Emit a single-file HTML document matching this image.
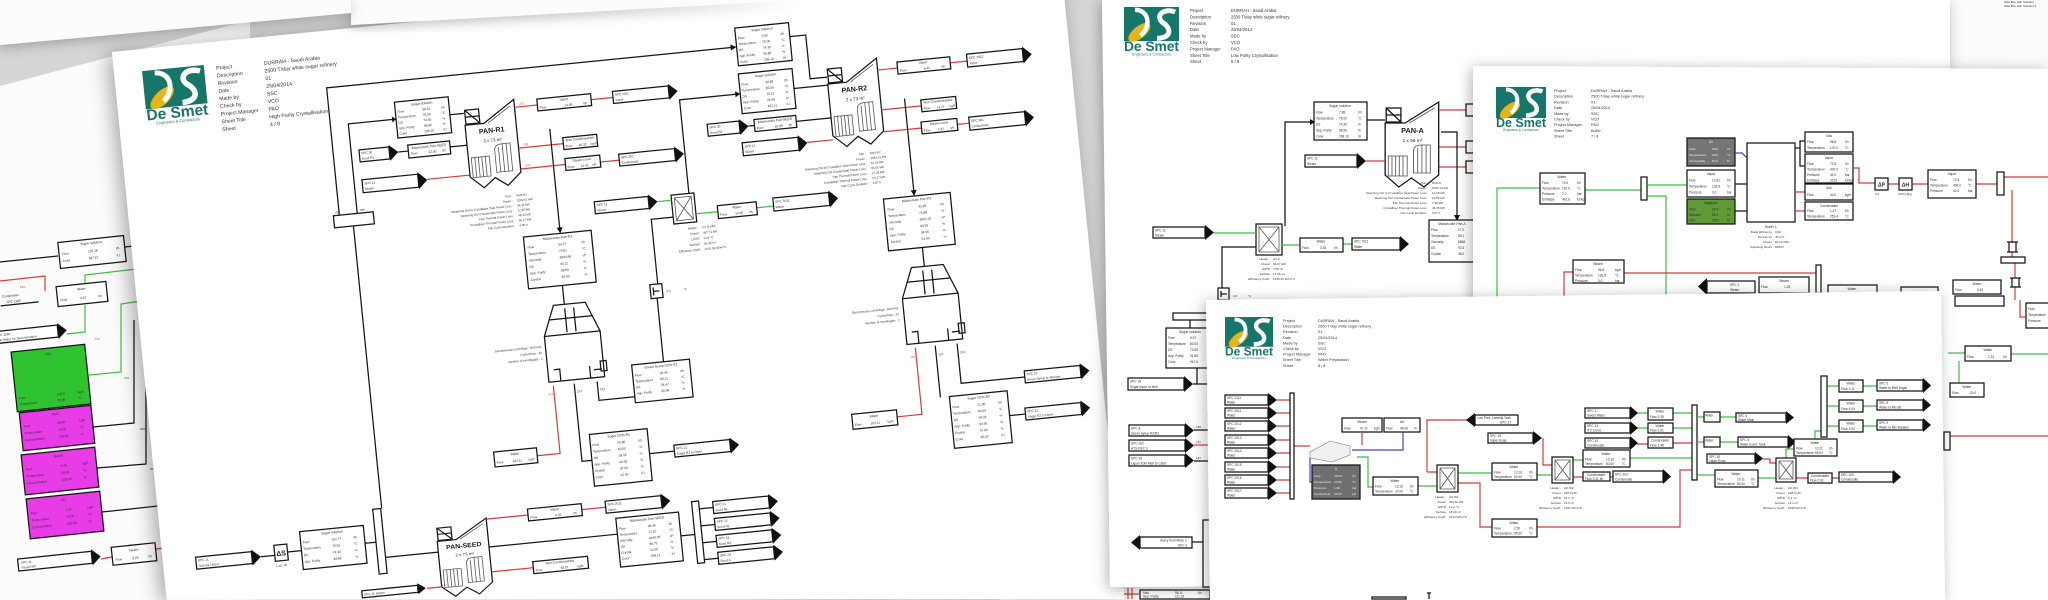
<!DOCTYPE html>
<html><head><meta charset="utf-8">
<style>
html,body{margin:0;padding:0;background:#fff;overflow:hidden;width:2048px;height:600px}
#wrap{position:relative;width:2048px;height:600px;overflow:hidden;background:#d6d6d6}
svg{display:block;overflow:hidden}
.bx{fill:#fff;stroke:#151515;stroke-width:1.25}
.k{fill:none;stroke:#151515;stroke-width:1.25}
.kt{fill:none;stroke:#555;stroke-width:0.8}
.r{fill:none;stroke:#d43c3c;stroke-width:1.2}
.g{fill:none;stroke:#3cc03c;stroke-width:1.2}
.bl{fill:none;stroke:#3a48c0;stroke-width:1.2}
.tr{fill:#111}
text{font-family:"Liberation Sans",sans-serif}
.t{font-size:3.2px;fill:#2e2e2e}
.tt{font-size:3.4px;fill:#2e2e2e;text-anchor:middle}
.tw{font-size:3.1px;fill:#eee}
.tb5{font-size:5.2px;fill:#333}
.tb4{font-size:4.2px;fill:#333}
.tb3{font-size:3.8px;fill:#333}
.te{font-size:3px;fill:#333;text-anchor:end}
.tm{font-size:3px;fill:#333}
.vl{font-size:7px;font-weight:bold;fill:#1a1a1a;text-anchor:middle}
.vs{font-size:4.5px;fill:#222;text-anchor:middle}
.ds{font-size:25px;font-weight:bold;fill:#17766a}
.ds2{font-size:6.5px;fill:#17766a}
.nr{font-size:3px;fill:#d43c3c}
.nk{font-size:3px;fill:#333}
.ng{font-size:3px;fill:#2a9a2a}
</style></head><body>
<div id="wrap">
<svg width="2048" height="600" viewBox="0 0 2048 600" xmlns="http://www.w3.org/2000/svg">
<defs>
<filter id="sh" x="-30%" y="-30%" width="160%" height="160%"><feDropShadow dx="-2" dy="2" stdDeviation="7" flood-color="#000" flood-opacity="0.3"/></filter>
<filter id="shA" x="-10%" y="-10%" width="120%" height="120%"><feDropShadow dx="-5" dy="3" stdDeviation="10" flood-color="#000" flood-opacity="0.35"/></filter>
</defs>
<rect width="2048" height="600" fill="#d6d6d6"/>

<!-- ============ SHEET L (far left) ============ -->
<polygon points="0,86 250,20 250,600 0,600" fill="#fbfbfb"/>
<path class="k" d="M0,262 L58,256"/>
<path class="k" d="M125,247 L150,244"/>
<path class="r" d="M0,281 L45,276 V291"/>
<path class="g" d="M67,334 L85,332 V305"/>
<path class="g" d="M85,284 V275 L145,268"/>
<path class="g" d="M89,375 L121,372 V304 L148,300"/>
<path class="k" d="M93,427 L134,423 V320"/>
<path class="k" d="M97,468 L146,464 V340"/>
<path class="k" d="M102,512 L158,506 V370"/>
<path class="r" d="M101,559 L112,557"/>
<path class="r" d="M156,549 L172,547"/>
<text class="nk" x="140" y="430">208</text><text class="nk" x="150" y="470">209</text><text class="nk" x="160" y="512">210</text>
<text class="ng" x="95" y="340">197</text><text class="ng" x="124" y="379">198</text><text class="nr" x="20" y="288">181</text>
<g transform="rotate(-6 92 252)"><rect class="bx" x="59" y="239" width="66" height="26"/><text class="tt" x="92" y="244">Sugar solution</text>
<text class="t" y="252"><tspan x="62">Flow</tspan><tspan x="88">155.28</tspan><tspan x="116">t/h</tspan></text>
<text class="t" y="259"><tspan x="62">Color</tspan><tspan x="88">387.57</tspan><tspan x="116">IU</tspan></text></g>
<g transform="rotate(-6 82 294)"><rect class="bx" x="57" y="284" width="50" height="20"/><text class="tt" x="82" y="290">Water</text>
<text class="t" y="299"><tspan x="60">Flow</tspan><tspan x="80">0.07</tspan><tspan x="98">t/h</tspan></text></g>
<g transform="rotate(-6 18 298)"><text class="t" x="2" y="296">Condensate</text><text class="t" x="6" y="302">SPC 1180</text><path class="k" d="M0,304 H38"/></g>
<g transform="rotate(-6 30 334)"><rect class="bx" x="-8" y="328" width="66" height="12"/><polygon class="tr" points="58,326 67,334 58,342"/><text class="t" x="-4" y="333">SPC 1140</text><text class="t" x="-4" y="338">Salt Water for Decolorization</text></g>
<g transform="rotate(-6 51 378)"><rect x="14" y="348" width="74" height="60" fill="#2fc42f" stroke="#151515" stroke-width="1.25"/><text class="tt" x="51" y="355">DS1</text>
<text class="t" y="396"><tspan x="17">Flow</tspan><tspan x="55">126.0</tspan><tspan x="76">kg/h</tspan></text>
<text class="t" y="402"><tspan x="17">Temperature</tspan><tspan x="55">20.00</tspan><tspan x="76">°C</tspan></text></g>
<g transform="rotate(-6 57 428)"><rect x="21" y="409" width="72" height="38" fill="#e83ce8" stroke="#151515" stroke-width="1.25"/><text class="tt" x="57" y="415">NaCl</text>
<text class="t" y="424"><tspan x="24">Flow</tspan><tspan x="58">59.80</tspan><tspan x="80">kg/h</tspan></text>
<text class="t" y="431"><tspan x="24">Temperature</tspan><tspan x="58">20.00</tspan><tspan x="80">°C</tspan></text>
<text class="t" y="438"><tspan x="24">Concentration</tspan><tspan x="58">100.00</tspan><tspan x="80">%</tspan></text></g>
<g transform="rotate(-6 60 471)"><rect x="23" y="451" width="74" height="40" fill="#e83ce8" stroke="#151515" stroke-width="1.25"/><text class="tt" x="60" y="457">NaOH</text>
<text class="t" y="467"><tspan x="26">Flow</tspan><tspan x="61">4.48</tspan><tspan x="83">kg/h</tspan></text>
<text class="t" y="474"><tspan x="26">Temperature</tspan><tspan x="61">20.00</tspan><tspan x="83">°C</tspan></text>
<text class="t" y="481"><tspan x="26">Concentration</tspan><tspan x="61">100.00</tspan><tspan x="83">%</tspan></text></g>
<g transform="rotate(-6 65 515)"><rect x="28" y="495" width="74" height="40" fill="#e83ce8" stroke="#151515" stroke-width="1.25"/><text class="tt" x="65" y="501">HCl</text>
<text class="t" y="511"><tspan x="31">Flow</tspan><tspan x="66">1.22</tspan><tspan x="88">kg/h</tspan></text>
<text class="t" y="518"><tspan x="31">Temperature</tspan><tspan x="66">20.00</tspan><tspan x="88">°C</tspan></text>
<text class="t" y="525"><tspan x="31">Concentration</tspan><tspan x="66">100.00</tspan><tspan x="88">%</tspan></text></g>
<g transform="rotate(-6 134 554)"><rect class="bx" x="112" y="545" width="44" height="18"/><text class="tt" x="134" y="551">Steam</text>
<text class="t" y="559"><tspan x="115">Flow</tspan><tspan x="132">3.86</tspan><tspan x="148">t/h</tspan></text></g>
<g transform="rotate(-6 57 561)"><rect class="bx" x="18" y="555" width="74" height="12"/><polygon class="tr" points="92,553 101,561 92,569"/><text class="t" x="21" y="560">SPC 11</text><text class="t" x="21" y="565">Steam BP</text></g>

<!-- ============ under-sheet bottom centre ============ -->
<polygon points="1000,545 1215,545 1215,600 1000,600" fill="#fbfbfb"/>
<rect class="bx" x="1140" y="590" width="70" height="9"/>
<text class="t" y="594"><tspan x="1143">Max</tspan><tspan x="1175">98.11</tspan><tspan x="1198">t/h</tspan></text>
<text class="t" y="597.5"><tspan x="1143">Sep. Purity</tspan><tspan x="1175">111.32</tspan></text>
<path class="r" d="M1128,588 V599 M1124,594 H1140 M1132,588 V599"/>

<!-- ============ SHEET A (main, rotated) ============ -->
<g transform="translate(112,52) rotate(-5.7)">
<polygon points="0,0 953,0 953,645 0,550.5" fill="#fff" filter="url(#shA)"/>
<g transform="translate(28,22) scale(0.62)">
<rect width="100" height="62" fill="#17766a"/>
<ellipse cx="28" cy="46" rx="24" ry="11" transform="rotate(-38 28 46)" fill="#e9b41a"/>
<path d="M20,5 C46,6 50,34 30,52" fill="none" stroke="#fff" stroke-width="8"/>
<path d="M93,9 C72,1 56,16 70,28 C86,38 88,56 60,57" fill="none" stroke="#fff" stroke-width="9"/>
<text class="ds" x="50" y="80" text-anchor="middle">De Smet</text>
<text class="ds2" x="50" y="88" text-anchor="middle">Engineers &amp; Contractors</text>
</g>
<text class="tb5"><tspan x="102" y="28">Project</tspan><tspan x="102" y="35.7">Description</tspan><tspan x="102" y="43.4">Revision</tspan><tspan x="102" y="51.1">Date</tspan><tspan x="102" y="58.8">Made by</tspan><tspan x="102" y="66.5">Check by</tspan><tspan x="102" y="74.2">Project Manager</tspan><tspan x="102" y="81.9">Sheet Title</tspan><tspan x="102" y="89.6">Sheet</tspan></text>
<text class="tb5"><tspan x="150" y="28">DURRAH - Saudi Arabia</tspan><tspan x="150" y="35.7">2500 T/day white sugar refinery</tspan><tspan x="150" y="43.4">01</tspan><tspan x="150" y="51.1">25/04/2014</tspan><tspan x="150" y="58.8">SSC</tspan><tspan x="150" y="66.5">VCO</tspan><tspan x="150" y="74.2">PAO</tspan><tspan x="150" y="81.9">High Purity Crystallisation</tspan><tspan x="150" y="89.6">4 / 8</tspan></text>

<path class="k" d="M210,185 V57 H619"/><polygon class="tr" points="616,54 622,57 616,60"/>
<path class="k" d="M228,185 V95 H273"/><polygon class="tr" points="272,92 276,95 272,98"/>
<rect class="bx" x="204" y="185" width="40" height="12"/>
<text class="nk" x="206" y="183">207</text><text class="nk" x="231" y="183">206</text>
<path class="k" d="M223,197 V481"/>

<!-- PAN-R1 -->
<rect class="bx" x="276" y="78" width="54" height="36"/><text class="tt" x="303" y="83">Sugar solution</text>
<text class="t" y="89"><tspan x="278">Flow</tspan><tspan x="303">38.29</tspan><tspan x="322">t/h</tspan></text>
<text class="t" y="94.5"><tspan x="278">Temperature</tspan><tspan x="303">76.00</tspan><tspan x="322">°C</tspan></text>
<text class="t" y="100"><tspan x="278">DS</tspan><tspan x="303">74.30</tspan><tspan x="322">%</tspan></text>
<text class="t" y="105.5"><tspan x="278">App. Purity</tspan><tspan x="303">98.85</tspan><tspan x="322">%</tspan></text>
<text class="t" y="111"><tspan x="278">Color</tspan><tspan x="303">298.10</tspan><tspan x="322">IU</tspan></text>
<rect class="bx" x="285" y="122" width="42" height="13"/><text class="tt" x="306" y="126.5">Massecuite Pan-SEED</text>
<text class="t" y="132"><tspan x="287">Flow</tspan><tspan x="305">22.50</tspan><tspan x="319">t/h</tspan></text>
<rect class="bx" x="236" y="122" width="30" height="12"/><polygon class="tr" points="266,120 275,128 266,136"/><text class="t" x="238" y="126.5">SPC 30</text><text class="t" x="238" y="132">Seed R1</text>
<rect class="bx" x="236" y="152" width="56" height="13"/><polygon class="tr" points="292,150 301,158.5 292,167"/><text class="t" x="238" y="157">SPC 11</text><text class="t" x="238" y="162.5">Steam</text>
<path class="k" d="M330,96 H344 M275,128 H285 M327,128 H344"/><path class="r" d="M301,158 H344"/>
<g transform="translate(341,86)">
<path class="k" d="M3,22 V74 L16,86 L28,77 L40,86 L54,74 V1 L22,22 Z"/>
<rect class="k" x="4" y="7" width="14" height="14"/><path class="k" d="M4,7 L18,21 M4,14 H18"/><path class="kt" d="M26,22 L50,7"/>
<rect class="kt" x="6" y="55" width="18" height="20"/><path class="kt" d="M9.5,55V75M13,55V75M16.5,55V75M20,55V75"/>
<path class="kt" d="M30,72 V50 Q30,44 38,44 H46 V72 Z M34,47V72M38,44V72M42,44V72"/>
<text class="vl" x="29" y="32">PAN-R1</text><text class="vs" x="29" y="41">3 x 73 m²</text>
</g>
<path class="r" d="M395,95 H418 M472,95 H494 M395,136 H440 M395,157 H440 M475,158 H494"/>
<text class="nr" x="400" y="93">202</text><text class="nr" x="400" y="134">203</text><text class="nr" x="400" y="155">204</text>
<rect class="bx" x="418" y="89" width="54" height="12"/><text class="tt" x="445" y="93">Vapor</text><text class="t" y="99"><tspan x="420">Flow</tspan><tspan x="445">13.85</tspan><tspan x="464">t/h</tspan></text>
<rect class="bx" x="494" y="89" width="56" height="12"/><polygon class="tr" points="550,87 559,95 550,103"/><text class="t" x="496" y="93.5">SPC 2011</text><text class="t" x="496" y="99">Vapor</text>
<rect class="bx" x="440" y="130" width="34" height="12"/><text class="tt" x="457" y="134">Non Condensables</text><text class="t" y="140"><tspan x="442">Flow</tspan><tspan x="455">46.32</tspan><tspan x="467">kg/h</tspan></text>
<rect class="bx" x="440" y="151" width="35" height="12"/><text class="tt" x="457" y="155">Steam cond.</text><text class="t" y="161"><tspan x="442">Flow</tspan><tspan x="455">15.41</tspan><tspan x="467">t/h</tspan></text>
<rect class="bx" x="494" y="152" width="56" height="12"/><polygon class="tr" points="550,150 559,158 550,166"/><text class="t" x="496" y="156.5">SPC 301</text><text class="t" x="496" y="162">Condensate</text>
<path class="k" d="M428,120 V222"/><polygon class="tr" points="425,219 428,225 431,219"/>
<text class="te" x="384" y="184">Pan :</text><text class="tm" x="388" y="184">PAN-R1</text>
<text class="te" x="384" y="189">Power :</text><text class="tm" x="388" y="189">2299.61 kW</text>
<text class="te" x="384" y="194">Steaming Out to Crystallizer heat Power Loss :</text><text class="tm" x="388" y="194">96.11 kW</text>
<text class="te" x="384" y="199">Steaming Out Condensate Power Loss :</text><text class="tm" x="388" y="199">11.35 kW</text>
<text class="te" x="384" y="204">Pan Thermal Power Loss :</text><text class="tm" x="388" y="204">48.12 kW</text>
<text class="te" x="384" y="209">Crystalliser Thermal Power Loss :</text><text class="tm" x="388" y="209">56.17 kW</text>
<text class="te" x="384" y="214">Pan Cycle Duration :</text><text class="tm" x="388" y="214">3.00 h</text>
<rect class="bx" x="391" y="225" width="68" height="52"/><text class="tt" x="425" y="230">Massecuite Pan-R1</text>
<text class="t" y="237"><tspan x="394">Flow</tspan><tspan x="425">54.27</tspan><tspan x="448">t/h</tspan></text>
<text class="t" y="243.5"><tspan x="394">Temperature</tspan><tspan x="425">73.81</tspan><tspan x="448">°C</tspan></text>
<text class="t" y="250"><tspan x="394">Viscosity</tspan><tspan x="425">6090.88</tspan><tspan x="448">cP</tspan></text>
<text class="t" y="256.5"><tspan x="394">DS</tspan><tspan x="425">90.11</tspan><tspan x="448">%</tspan></text>
<text class="t" y="263"><tspan x="394">App. Purity</tspan><tspan x="425">98.85</tspan><tspan x="448">%</tspan></text>
<text class="t" y="269.5"><tspan x="394">Crystal</tspan><tspan x="425">55.50</tspan><tspan x="448">%</tspan></text>
<path class="k" d="M425,277 V296"/>
<g transform="translate(400,296)">
<path class="k" d="M14,0 H46 L58,30 V76 H2 V30 Z"/><path class="k" d="M8,14 H52 M2,30 H58 M25,4 V28 M34,4 V28"/>
<path class="k" d="M8,64 H14 V76 M44,64 V76 M48,68 H56"/><rect class="k" x="55" y="60" width="6" height="10"/>
</g>
<text class="te" x="398" y="337">Discontinuous centrifuge : DCN-R1</text><text class="te" x="398" y="343">Cycles/hour : 20</text><text class="te" x="398" y="349">Number of centrifugals : 2</text>
<path class="r" d="M406,376 V444 H383"/><path class="k" d="M427,376 V454 H437 M450,376 V395 H486"/>
<text class="nr" x="400" y="385">212</text><text class="nk" x="429" y="385">214</text><text class="nk" x="452" y="385">213</text>
<rect class="bx" x="486" y="363" width="58" height="38"/><text class="tt" x="515" y="368">Green Syrup DCN-R1</text>
<text class="t" y="375"><tspan x="488">Flow</tspan><tspan x="513">28.46</tspan><tspan x="534">t/h</tspan></text>
<text class="t" y="381"><tspan x="488">Temperature</tspan><tspan x="513">66.11</tspan><tspan x="534">°C</tspan></text>
<text class="t" y="387"><tspan x="488">DS</tspan><tspan x="513">78.47</tspan><tspan x="534">%</tspan></text>
<text class="t" y="393"><tspan x="488">App. Purity</tspan><tspan x="513">96.96</tspan><tspan x="534">%</tspan></text>
<path class="k" d="M542,220 H520 V285 M518,299 V363"/>
<rect class="bx" x="512" y="285" width="12" height="14"/><path class="k" d="M515,288 V296 M515,292 H521"/>
<text class="tm" x="528" y="294">0.0</text><text class="tm" x="545" y="294">°C</text>
<rect class="bx" x="542" y="198" width="23" height="29"/><path class="kt" d="M545,201 H562 V224 H545 Z M545,201 L562,224 M562,201 L545,224"/>
<rect class="bx" x="465" y="197" width="54" height="12"/><polygon class="tr" points="519,195 528,203 519,211"/><text class="t" x="467" y="201.5">SPC 11</text><text class="t" x="467" y="207">Steam</text>
<path class="g" d="M528,203 H542 M565,219 H587 M626,219 H643"/>
<path class="k" d="M560,198 V104 H618"/><polygon class="tr" points="616,101 621,104 616,107"/>
<rect class="bx" x="587" y="213" width="39" height="13"/><text class="tt" x="606" y="217.5">Water</text><text class="t" y="223.5"><tspan x="589">Flow</tspan><tspan x="604">15.46</tspan><tspan x="618">t/h</tspan></text>
<rect class="bx" x="643" y="211" width="56" height="13"/><polygon class="tr" points="699,209 708,217.5 699,226"/><text class="t" x="645" y="216">SPC 7011</text><text class="t" x="645" y="221.5">Water</text>
<text class="te" x="566" y="234">Heater :</text><text class="tm" x="570" y="234">HT-R1/R2</text>
<text class="te" x="566" y="239.5">Power</text><text class="tm" x="570" y="239.5">487.71 kW</text>
<text class="te" x="566" y="245">LMTD</text><text class="tm" x="570" y="245">14.8 °C</text>
<text class="te" x="566" y="250.5">Surface</text><text class="tm" x="570" y="250.5">65.39 m²</text>
<text class="te" x="566" y="256">Efficiency Coeff.</text><text class="tm" x="570" y="256">1620.09 W/m²°C</text>
<rect class="bx" x="437" y="428" width="58" height="52"/><text class="tt" x="466" y="433">Sugar DCN-R1</text>
<text class="t" y="440"><tspan x="439">Flow</tspan><tspan x="464">25.80</tspan><tspan x="485">t/h</tspan></text>
<text class="t" y="446.5"><tspan x="439">Temperature</tspan><tspan x="464">60.00</tspan><tspan x="485">°C</tspan></text>
<text class="t" y="453"><tspan x="439">DS</tspan><tspan x="464">99.95</tspan><tspan x="485">%</tspan></text>
<text class="t" y="459.5"><tspan x="439">App. Purity</tspan><tspan x="464">99.95</tspan><tspan x="485">%</tspan></text>
<text class="t" y="466"><tspan x="439">Crystal</tspan><tspan x="464">97.90</tspan><tspan x="485">%</tspan></text>
<text class="t" y="472.5"><tspan x="439">Color</tspan><tspan x="464">32.00</tspan><tspan x="485">IU</tspan></text>
<path class="k" d="M495,453 H520"/>
<rect class="bx" x="520" y="447" width="56" height="12"/><polygon class="tr" points="576,445 585,453 576,461"/><text class="t" x="522" y="451.5">SPC 11</text><text class="t" x="522" y="457">Sugar R1 to Dryer</text>
<rect class="bx" x="340" y="436" width="43" height="15"/><text class="tt" x="361" y="441">Water</text><text class="t" y="448"><tspan x="342">Flow</tspan><tspan x="358">102.11</tspan><tspan x="374">kg/h</tspan></text>

<!-- PAN-R2 -->
<rect class="bx" x="622" y="38" width="54" height="38"/><text class="tt" x="649" y="43">Sugar solution</text>
<text class="t" y="49.5"><tspan x="624">Flow</tspan><tspan x="648">3.50</tspan><tspan x="667">t/h</tspan></text>
<text class="t" y="55.5"><tspan x="624">Temperature</tspan><tspan x="648">76.00</tspan><tspan x="667">°C</tspan></text>
<text class="t" y="61.5"><tspan x="624">DS</tspan><tspan x="648">74.30</tspan><tspan x="667">%</tspan></text>
<text class="t" y="67.5"><tspan x="624">App. Purity</tspan><tspan x="648">98.85</tspan><tspan x="667">%</tspan></text>
<text class="t" y="73.5"><tspan x="624">Color</tspan><tspan x="648">298.10</tspan><tspan x="667">IU</tspan></text>
<rect class="bx" x="621" y="84" width="54" height="40"/><text class="tt" x="648" y="89">Sugar solution</text>
<text class="t" y="96"><tspan x="623">Flow</tspan><tspan x="647">30.88</tspan><tspan x="666">t/h</tspan></text>
<text class="t" y="102"><tspan x="623">Temperature</tspan><tspan x="647">85.00</tspan><tspan x="666">°C</tspan></text>
<text class="t" y="108"><tspan x="623">DS</tspan><tspan x="647">76.21</tspan><tspan x="666">%</tspan></text>
<text class="t" y="114"><tspan x="623">App. Purity</tspan><tspan x="647">96.96</tspan><tspan x="666">%</tspan></text>
<text class="t" y="120"><tspan x="623">Color</tspan><tspan x="647">452.11</tspan><tspan x="666">IU</tspan></text>
<rect class="bx" x="632" y="131" width="42" height="12"/><text class="tt" x="653" y="135">Massecuite Pan-SEED</text><text class="t" y="141"><tspan x="634">Flow</tspan><tspan x="652">10.85</tspan><tspan x="666">t/h</tspan></text>
<rect class="bx" x="585" y="131" width="32" height="12"/><polygon class="tr" points="617,129 626,137 617,145"/><text class="t" x="587" y="135.5">SPC 30</text><text class="t" x="587" y="141">Seed R2</text>
<rect class="bx" x="618" y="153" width="56" height="13"/><polygon class="tr" points="674,151 683,159.5 674,168"/><text class="t" x="620" y="158">SPC 11</text><text class="t" x="620" y="163.5">Steam</text>
<path class="k" d="M676,52 H692 V96 H709 M675,104 H709 M674,137 H709 M626,137 H632"/><path class="r" d="M683,159 H709"/>
<g transform="translate(706,81)">
<path class="k" d="M3,22 V74 L16,86 L28,77 L40,86 L54,74 V1 L22,22 Z"/>
<rect class="k" x="4" y="7" width="14" height="14"/><path class="k" d="M4,7 L18,21 M4,14 H18"/><path class="kt" d="M26,22 L50,7"/>
<rect class="kt" x="6" y="55" width="18" height="20"/><path class="kt" d="M9.5,55V75M13,55V75M16.5,55V75M20,55V75"/>
<path class="kt" d="M30,72 V50 Q30,44 38,44 H46 V72 Z M34,47V72M38,44V72M42,44V72"/>
<text class="vl" x="29" y="32">PAN-R2</text><text class="vs" x="29" y="41">2 x 73 m²</text>
</g>
<path class="r" d="M760,94 H780 M833,94 H850 M760,134 H800 M760,156 H798 M834,156 H846"/>
<rect class="bx" x="780" y="88" width="53" height="12"/><text class="tt" x="806" y="92">Vapor</text><text class="t" y="98"><tspan x="782">Flow</tspan><tspan x="806">8.41</tspan><tspan x="824">t/h</tspan></text>
<rect class="bx" x="850" y="87" width="56" height="13"/><polygon class="tr" points="906,85 915,93.5 906,102"/><text class="t" x="852" y="92">SPC 2011</text><text class="t" x="852" y="97.5">Vapor</text>
<rect class="bx" x="800" y="128" width="35" height="12"/><text class="tt" x="817" y="132">Non Condensables</text><text class="t" y="138"><tspan x="802">Flow</tspan><tspan x="815">13.27</tspan><tspan x="828">kg/h</tspan></text>
<rect class="bx" x="798" y="150" width="36" height="12"/><text class="tt" x="816" y="154">Steam cond.</text><text class="t" y="160"><tspan x="800">Flow</tspan><tspan x="814">7.42</tspan><tspan x="827">t/h</tspan></text>
<rect class="bx" x="846" y="150" width="56" height="13"/><polygon class="tr" points="902,148 911,156.5 902,165"/><text class="t" x="848" y="155">SPC 301</text><text class="t" x="848" y="160.5">Condensate</text>
<path class="k" d="M784,125 V220"/><polygon class="tr" points="781,217 784,223 787,217"/>
<text class="te" x="740" y="177">Pan :</text><text class="tm" x="744" y="177">PAN-R2</text>
<text class="te" x="740" y="182">Power :</text><text class="tm" x="744" y="182">2083.51 kW</text>
<text class="te" x="740" y="187">Steaming Out to Crystallizer heat Power Loss :</text><text class="tm" x="744" y="187">54.45 kW</text>
<text class="te" x="740" y="192">Steaming Out Condensate Power Loss :</text><text class="tm" x="744" y="192">86.56 kW</text>
<text class="te" x="740" y="197">Pan Thermal Power Loss :</text><text class="tm" x="744" y="197">27.38 kW</text>
<text class="te" x="740" y="202">Crystalliser Thermal Power Loss :</text><text class="tm" x="744" y="202">54.27 kW</text>
<text class="te" x="740" y="207">Pan Cycle Duration :</text><text class="tm" x="744" y="207">2.87 h</text>
<rect class="bx" x="753" y="223" width="67" height="52"/><text class="tt" x="786" y="228">Massecuite Pan-R2</text>
<text class="t" y="235"><tspan x="756">Flow</tspan><tspan x="787">43.86</tspan><tspan x="809">t/h</tspan></text>
<text class="t" y="241.5"><tspan x="756">Temperature</tspan><tspan x="787">72.88</tspan><tspan x="809">°C</tspan></text>
<text class="t" y="248"><tspan x="756">Viscosity</tspan><tspan x="787">5092.19</tspan><tspan x="809">cP</tspan></text>
<text class="t" y="254.5"><tspan x="756">DS</tspan><tspan x="787">89.50</tspan><tspan x="809">%</tspan></text>
<text class="t" y="261"><tspan x="756">App. Purity</tspan><tspan x="787">96.96</tspan><tspan x="809">%</tspan></text>
<text class="t" y="267.5"><tspan x="756">Crystal</tspan><tspan x="787">54.90</tspan><tspan x="809">%</tspan></text>
<path class="k" d="M787,275 V294"/>
<g transform="translate(760,294)">
<path class="k" d="M14,0 H46 L58,30 V76 H2 V30 Z"/><path class="k" d="M8,14 H52 M2,30 H58 M25,4 V28 M34,4 V28"/>
<path class="k" d="M8,64 H14 V76 M44,64 V76 M48,68 H56"/><rect class="k" x="55" y="60" width="6" height="10"/>
</g>
<text class="te" x="757" y="334">Discontinuous centrifuge : DCN-R2</text><text class="te" x="757" y="340">Cycles/hour : 20</text><text class="te" x="757" y="346">Number of centrifugals : 2</text>
<path class="r" d="M770,374 V441 H745"/><path class="k" d="M790,374 V426 M812,374 V414 H876"/>
<text class="nr" x="764" y="384">222</text><text class="nk" x="792" y="384">224</text><text class="nk" x="814" y="384">223</text>
<rect class="bx" x="700" y="434" width="45" height="15"/><text class="tt" x="722" y="439">Water</text><text class="t" y="446"><tspan x="702">Flow</tspan><tspan x="718">102.11</tspan><tspan x="735">kg/h</tspan></text>
<rect class="bx" x="799" y="426" width="58" height="52"/><text class="tt" x="828" y="431">Sugar DCN-R2</text>
<text class="t" y="438"><tspan x="801">Flow</tspan><tspan x="826">21.80</tspan><tspan x="847">t/h</tspan></text>
<text class="t" y="444.5"><tspan x="801">Temperature</tspan><tspan x="826">60.00</tspan><tspan x="847">°C</tspan></text>
<text class="t" y="451"><tspan x="801">DS</tspan><tspan x="826">99.95</tspan><tspan x="847">%</tspan></text>
<text class="t" y="457.5"><tspan x="801">App. Purity</tspan><tspan x="826">99.90</tspan><tspan x="847">%</tspan></text>
<text class="t" y="464"><tspan x="801">Crystal</tspan><tspan x="826">97.80</tspan><tspan x="847">%</tspan></text>
<text class="t" y="470.5"><tspan x="801">Color</tspan><tspan x="826">45.00</tspan><tspan x="847">IU</tspan></text>
<path class="k" d="M857,451 H873"/>
<rect class="bx" x="876" y="408" width="56" height="12"/><polygon class="tr" points="932,406 941,414 932,422"/><text class="t" x="878" y="412.5">SPC 10</text><text class="t" x="878" y="418">Green Syrup to Storage</text>
<rect class="bx" x="873" y="445" width="56" height="12"/><polygon class="tr" points="929,443 938,451 929,459"/><text class="t" x="875" y="449.5">SPC 11</text><text class="t" x="875" y="455">Sugar R2 to Dryer</text>

<!-- PAN-SEED -->
<rect class="bx" x="33" y="511" width="56" height="12"/><polygon class="tr" points="89,509 98,517 89,525"/><text class="t" x="35" y="515.5">SPC 11</text><text class="t" x="35" y="521">Deposit Liquor</text>
<path class="k" d="M98,517 H112 M125,515 H139 M203,514 H214 M222,530 H275"/>
<rect class="bx" x="112" y="507" width="13" height="16"/><text x="118.5" y="518" font-size="7" font-weight="bold" text-anchor="middle" fill="#222">ΔS</text>
<text class="tm" x="112" y="529">1.20</text><text class="tm" x="120" y="529">t/h</text>
<rect class="bx" x="139" y="496" width="64" height="38"/><text class="tt" x="171" y="501">Sugar solution</text>
<text class="t" y="508"><tspan x="141">Flow</tspan><tspan x="170">102.77</tspan><tspan x="192">t/h</tspan></text>
<text class="t" y="514.5"><tspan x="141">Temperature</tspan><tspan x="170">76.00</tspan><tspan x="192">°C</tspan></text>
<text class="t" y="521"><tspan x="141">DS</tspan><tspan x="170">74.30</tspan><tspan x="192">%</tspan></text>
<text class="t" y="527.5"><tspan x="141">App. Purity</tspan><tspan x="170">98.85</tspan><tspan x="192">%</tspan></text>
<rect class="bx" x="214" y="481" width="8" height="65"/>
<g transform="translate(272,500) scale(1,0.88)">
<path class="k" d="M3,22 V74 L16,86 L28,77 L40,86 L54,74 V1 L22,22 Z"/>
<rect class="k" x="4" y="7" width="14" height="14"/><path class="k" d="M4,7 L18,21 M4,14 H18"/><path class="kt" d="M26,22 L50,7"/>
<rect class="kt" x="6" y="55" width="18" height="20"/><path class="kt" d="M9.5,55V75M13,55V75M16.5,55V75M20,55V75"/>
<path class="kt" d="M30,72 V50 Q30,44 38,44 H46 V72 Z M34,47V72M38,44V72M42,44V72"/>
<text class="vl" x="29" y="32">PAN-SEED</text><text class="vs" x="29" y="41">2 x 73 m²</text>
</g>
<path class="r" d="M326,502 H368 M422,502 H446 M326,555 H368 M260,565 H275"/>
<path class="k" d="M326,530 H455 M518,538 H532 M539,513 H553 M539,530 H553 M539,547 H553 M539,564 H553"/>
<rect class="bx" x="368" y="496" width="54" height="12"/><text class="tt" x="395" y="500">Vapor</text><text class="t" y="506"><tspan x="370">Flow</tspan><tspan x="395">6.02</tspan><tspan x="413">t/h</tspan></text>
<rect class="bx" x="446" y="496" width="56" height="12"/><polygon class="tr" points="502,494 511,502 502,510"/><text class="t" x="448" y="500.5">SPC 2011</text><text class="t" x="448" y="506">Vapor</text>
<rect class="bx" x="455" y="514" width="63" height="49"/><text class="tt" x="486" y="519">Massecuite Pan-SEED</text>
<text class="t" y="526"><tspan x="457">Flow</tspan><tspan x="486">98.36</tspan><tspan x="507">t/h</tspan></text>
<text class="t" y="532"><tspan x="457">Temperature</tspan><tspan x="486">72.10</tspan><tspan x="507">°C</tspan></text>
<text class="t" y="538"><tspan x="457">Viscosity</tspan><tspan x="486">4440.95</tspan><tspan x="507">cP</tspan></text>
<text class="t" y="544"><tspan x="457">DS</tspan><tspan x="486">89.75</tspan><tspan x="507">%</tspan></text>
<text class="t" y="550"><tspan x="457">Crystal</tspan><tspan x="486">22.00</tspan><tspan x="507">%</tspan></text>
<text class="t" y="556"><tspan x="457">Color</tspan><tspan x="486">298.11</tspan><tspan x="507">IU</tspan></text>
<rect class="bx" x="368" y="549" width="55" height="12"/><text class="tt" x="395" y="553">Non Condensables</text><text class="t" y="559"><tspan x="370">Flow</tspan><tspan x="395">38.07</tspan><tspan x="412">kg/h</tspan></text>
<rect class="bx" x="532" y="505" width="7" height="62"/>
<rect class="bx" x="553" y="507" width="56" height="12"/><polygon class="tr" points="609,505 618,513 609,521"/><text class="t" x="555" y="511.5">SPC 21</text><text class="t" x="555" y="517">Seed R1</text>
<rect class="bx" x="553" y="524" width="56" height="12"/><polygon class="tr" points="609,522 618,530 609,538"/><text class="t" x="555" y="528.5">SPC 22</text><text class="t" x="555" y="534">Seed R2</text>
<rect class="bx" x="553" y="541" width="56" height="12"/><polygon class="tr" points="609,539 618,547 609,555"/><text class="t" x="555" y="545.5">SPC 23</text><text class="t" x="555" y="551">Seed R3</text>
<rect class="bx" x="553" y="558" width="56" height="12"/><polygon class="tr" points="609,556 618,564 609,572"/><text class="t" x="555" y="562.5">SPC 24</text><text class="t" x="555" y="568">Seed A</text>
<rect class="bx" x="195" y="561" width="56" height="7"/><polygon class="tr" points="251,559 259,564.5 251,570"/><text class="t" x="197" y="566">SPC 11 Steam</text>
</g>

<!-- ============ S0b / S0a (top left sheets) ============ -->
<polygon points="351,0 800,0 351,25" fill="#fcfcfc" filter="url(#sh)"/>
<polygon points="0,0 351,0 351,13 0,45" fill="#fcfcfc" filter="url(#sh)"/>

<!-- ============ SHEET R (far right top) ============ -->
<polygon points="1930,0 2048,0 2048,90 1930,90" fill="#fbfbfb"/>
<text class="tm" x="2004" y="3">Side Box with Solution</text>
<text class="tm" x="2004" y="7">Side Box with Solution 2</text>

<!-- ============ SHEET B ============ -->
<polygon points="1102,0 1950,0 1950,582 1110,587" fill="#fff" filter="url(#sh)"/>
<g transform="translate(1124,7) scale(0.55)">
<rect width="100" height="62" fill="#17766a"/>
<ellipse cx="28" cy="46" rx="24" ry="11" transform="rotate(-38 28 46)" fill="#e9b41a"/>
<path d="M20,5 C46,6 50,34 30,52" fill="none" stroke="#fff" stroke-width="8"/>
<path d="M93,9 C72,1 56,16 70,28 C86,38 88,56 60,57" fill="none" stroke="#fff" stroke-width="9"/>
<text class="ds" x="50" y="80" text-anchor="middle">De Smet</text>
<text class="ds2" x="50" y="88" text-anchor="middle">Engineers &amp; Contractors</text>
</g>
<text class="tb4"><tspan x="1190" y="12">Project</tspan><tspan x="1190" y="18.4">Description</tspan><tspan x="1190" y="24.8">Revision</tspan><tspan x="1190" y="31.2">Date</tspan><tspan x="1190" y="37.6">Made by</tspan><tspan x="1190" y="44">Check by</tspan><tspan x="1190" y="50.4">Project Manager</tspan><tspan x="1190" y="56.8">Sheet Title</tspan><tspan x="1190" y="63.2">Sheet</tspan></text>
<text class="tb4"><tspan x="1231" y="12">DURRAH - Saudi Arabia</tspan><tspan x="1231" y="18.4">2500 T/day white sugar refinery</tspan><tspan x="1231" y="24.8">01</tspan><tspan x="1231" y="31.2">25/04/2014</tspan><tspan x="1231" y="37.6">SSC</tspan><tspan x="1231" y="44">VCO</tspan><tspan x="1231" y="50.4">PAO</tspan><tspan x="1231" y="56.8">Low Purity Crystallisation</tspan><tspan x="1231" y="63.2">5 / 8</tspan></text>
<path class="k" d="M1285,226 V122 H1312"/><polygon class="tr" points="1310,119 1315,122 1310,125"/>
<rect class="bx" x="1314" y="102" width="53" height="38"/><text class="tt" x="1340" y="107">Sugar solution</text>
<text class="t" y="113.5"><tspan x="1316">Flow</tspan><tspan x="1339">7.88</tspan><tspan x="1358">t/h</tspan></text>
<text class="t" y="119.5"><tspan x="1316">Temperature</tspan><tspan x="1339">76.00</tspan><tspan x="1358">°C</tspan></text>
<text class="t" y="125.5"><tspan x="1316">DS</tspan><tspan x="1339">74.30</tspan><tspan x="1358">%</tspan></text>
<text class="t" y="131.5"><tspan x="1316">App. Purity</tspan><tspan x="1339">98.85</tspan><tspan x="1358">%</tspan></text>
<text class="t" y="137.5"><tspan x="1316">Color</tspan><tspan x="1339">298.10</tspan><tspan x="1358">IU</tspan></text>
<path class="k" d="M1367,120 H1385"/>
<g transform="translate(1382,101) scale(1.05,1)">
<path class="k" d="M3,22 V74 L16,86 L28,77 L40,86 L54,74 V1 L22,22 Z"/>
<rect class="k" x="4" y="7" width="14" height="14"/><path class="k" d="M4,7 L18,21 M4,14 H18"/><path class="kt" d="M26,22 L50,7"/>
<rect class="kt" x="6" y="55" width="18" height="20"/><path class="kt" d="M9.5,55V75M13,55V75M16.5,55V75M20,55V75"/>
<path class="kt" d="M30,72 V50 Q30,44 38,44 H46 V72 Z M34,47V72M38,44V72M42,44V72"/>
<text class="vl" x="29" y="32">PAN-A</text><text class="vs" x="29" y="41">1 x 56 m²</text>
</g>
<rect class="bx" x="1305" y="155" width="52" height="12"/><polygon class="tr" points="1357,153 1366,161 1357,169"/><text class="t" x="1307" y="159.5">SPC 11</text><text class="t" x="1307" y="165">Steam</text>
<path class="r" d="M1366,161 H1385 M1439,110 H1473 M1439,147 H1473 M1439,167 H1473"/>
<rect class="bx" x="1466" y="104" width="10" height="12"/><rect class="bx" x="1466" y="141" width="10" height="12"/><rect class="bx" x="1466" y="161" width="10" height="12"/>
<path class="k" d="M1441,132 H1457 V218"/><polygon class="tr" points="1454,215 1457,221 1460,215"/>
<text class="te" x="1428" y="184">Pan :</text><text class="tm" x="1432" y="184">PAN-A</text>
<text class="te" x="1428" y="189">Power :</text><text class="tm" x="1432" y="189">1025.14 kW</text>
<text class="te" x="1428" y="194">Steaming Out to Crystallizer heat Power Loss :</text><text class="tm" x="1432" y="194">12.25 kW</text>
<text class="te" x="1428" y="199">Steaming Out Condensate Power Loss :</text><text class="tm" x="1432" y="199">10.82 kW</text>
<text class="te" x="1428" y="204">Pan Thermal Power Loss :</text><text class="tm" x="1432" y="204">7.98 kW</text>
<text class="te" x="1428" y="209">Crystalliser Thermal Power Loss :</text><text class="tm" x="1432" y="209">40.35 kW</text>
<text class="te" x="1428" y="214">Pan Cycle Duration :</text><text class="tm" x="1432" y="214">3.57 h</text>
<rect class="bx" x="1429" y="220" width="50" height="42"/><text class="tt" x="1452" y="225">Massecuite Pan-A</text>
<text class="t" y="231"><tspan x="1431">Flow</tspan><tspan x="1458">17.2</tspan></text>
<text class="t" y="237"><tspan x="1431">Temperature</tspan><tspan x="1458">69.1</tspan></text>
<text class="t" y="243"><tspan x="1431">Viscosity</tspan><tspan x="1458">5688</tspan></text>
<text class="t" y="249"><tspan x="1431">DS</tspan><tspan x="1458">90.3</tspan></text>
<text class="t" y="255"><tspan x="1431">Crystal</tspan><tspan x="1458">48.0</tspan></text>
<rect class="bx" x="1256" y="224" width="26" height="31"/><path class="kt" d="M1259,227 H1279 V252 H1259 Z M1259,227 L1279,252 M1279,227 L1259,252"/>
<rect class="bx" x="1153" y="227" width="52" height="11"/><polygon class="tr" points="1205,225 1214,232.5 1205,240"/><text class="t" x="1155" y="231.5">SPC 11</text><text class="t" x="1155" y="236.5">Steam</text>
<path class="g" d="M1214,233 H1256 M1282,245 H1300 M1343,244 H1352"/>
<rect class="bx" x="1300" y="238" width="43" height="14"/><text class="tt" x="1321" y="242.5">Water</text><text class="t" y="249"><tspan x="1302">Flow</tspan><tspan x="1320">3.35</tspan><tspan x="1334">t/h</tspan></text>
<rect class="bx" x="1352" y="238" width="48" height="12"/><polygon class="tr" points="1400,236 1409,244 1400,252"/><text class="t" x="1354" y="242.5">SPC 7011</text><text class="t" x="1354" y="248">Water</text>
<text class="te" x="1270" y="260">Heater :</text><text class="tm" x="1273" y="260">HT-A</text>
<text class="te" x="1270" y="265">Power</text><text class="tm" x="1273" y="265">94.07 kW</text>
<text class="te" x="1270" y="270">LMTD</text><text class="tm" x="1273" y="270">7.55 °C</text>
<text class="te" x="1270" y="275">Surface</text><text class="tm" x="1273" y="275">17.06 m²</text>
<text class="te" x="1270" y="280">Efficiency Coeff.</text><text class="tm" x="1273" y="280">1625.34 W/m²°C</text>
<path class="k" d="M1256,247 H1222 V288"/>
<rect class="bx" x="1218" y="288" width="11" height="12"/><path class="k" d="M1221,291 V297 M1221,294 H1227"/><text class="tm" x="1233" y="297">0.0</text><text class="tm" x="1248" y="297">°C</text>
<rect class="bx" x="1173" y="313" width="40" height="7"/>
<path class="k" d="M1190,320 V328"/>
<rect class="bx" x="1166" y="328" width="50" height="40"/><text class="tt" x="1190" y="333">Sugar solution</text>
<text class="t" y="339"><tspan x="1168">Flow</tspan><tspan x="1190">5.07</tspan></text>
<text class="t" y="345"><tspan x="1168">Temperature</tspan><tspan x="1190">80.00</tspan></text>
<text class="t" y="351"><tspan x="1168">DS</tspan><tspan x="1190">72.69</tspan></text>
<text class="t" y="357"><tspan x="1168">App. Purity</tspan><tspan x="1190">91.55</tspan></text>
<text class="t" y="363"><tspan x="1168">Color</tspan><tspan x="1190">912.6</tspan></text>
<path class="k" d="M1197,368 V384"/>
<rect class="bx" x="1128" y="378" width="56" height="12"/><polygon class="tr" points="1184,376 1193,384 1184,392"/><text class="t" x="1130" y="382.5">SPC 18</text><text class="t" x="1130" y="388">Sugar liquor to Melt</text>
<path class="k" d="M1193,384 H1210"/>
<rect class="bx" x="1129" y="425" width="56" height="11"/><polygon class="tr" points="1185,423 1194,430.5 1185,438"/><text class="t" x="1131" y="429.5">SPC 8</text><text class="t" x="1131" y="434.5">Green Syrup R2/R3</text>
<rect class="bx" x="1129" y="440" width="56" height="11"/><polygon class="tr" points="1185,438 1194,445.5 1185,453"/><text class="t" x="1131" y="444.5">SPC 102</text><text class="t" x="1131" y="449.5">HTS REC 3</text>
<rect class="bx" x="1129" y="455" width="56" height="11"/><polygon class="tr" points="1185,453 1194,460.5 1185,468"/><text class="t" x="1131" y="459.5">SPC 26</text><text class="t" x="1131" y="464.5">Liquor from Melt to Clarif.</text>
<path class="k" d="M1194,430 H1210 M1194,461 H1210"/><path class="r" d="M1194,445 H1210"/>
<text class="nk" x="1196" y="428">185</text><text class="nr" x="1196" y="443">186</text><text class="nk" x="1196" y="459">187</text>
<polygon class="tr" points="1140,535 1131,542.5 1140,550"/><rect class="bx" x="1140" y="537" width="52" height="11"/><text class="t" x="1160" y="541.5">Slurry from Mixer 1</text><text class="t" x="1178" y="546.5">SPC 3</text>
<path class="k" d="M1192,542 H1203"/>
<rect class="bx" x="1203" y="520" width="8" height="67"/>

<!-- ============ SHEET C ============ -->
<polygon points="1473,66 2048,69 2048,600 1473,600" fill="#fff" filter="url(#sh)"/>
<g transform="translate(1496,87) scale(0.5)">
<rect width="100" height="62" fill="#17766a"/>
<ellipse cx="28" cy="46" rx="24" ry="11" transform="rotate(-38 28 46)" fill="#e9b41a"/>
<path d="M20,5 C46,6 50,34 30,52" fill="none" stroke="#fff" stroke-width="8"/>
<path d="M93,9 C72,1 56,16 70,28 C86,38 88,56 60,57" fill="none" stroke="#fff" stroke-width="9"/>
<text class="ds" x="50" y="80" text-anchor="middle">De Smet</text>
<text class="ds2" x="50" y="88" text-anchor="middle">Engineers &amp; Contractors</text>
</g>
<text class="tb3"><tspan x="1554" y="92">Project</tspan><tspan x="1554" y="97.7">Description</tspan><tspan x="1554" y="103.4">Revision</tspan><tspan x="1554" y="109.1">Date</tspan><tspan x="1554" y="114.8">Made by</tspan><tspan x="1554" y="120.5">Check by</tspan><tspan x="1554" y="126.2">Project Manager</tspan><tspan x="1554" y="131.9">Sheet Title</tspan><tspan x="1554" y="137.6">Sheet</tspan></text>
<text class="tb3"><tspan x="1591" y="92">DURRAH - Saudi Arabia</tspan><tspan x="1591" y="97.7">2500 T/day white sugar refinery</tspan><tspan x="1591" y="103.4">01</tspan><tspan x="1591" y="109.1">25/04/2014</tspan><tspan x="1591" y="114.8">SSC</tspan><tspan x="1591" y="120.5">VCO</tspan><tspan x="1591" y="126.2">PAO</tspan><tspan x="1591" y="131.9">Boiler</tspan><tspan x="1591" y="137.6">7 / 8</tspan></text>
<path class="g" d="M1497,300 V188 H1540 M1585,190 H1641 M1648,185 H1687 M1666,300 V196 H1648"/>
<rect class="bx" x="1540" y="173" width="45" height="31"/><text class="tt" x="1562" y="178">Water</text>
<text class="t" y="184"><tspan x="1542">Flow</tspan><tspan x="1562">74.0</tspan><tspan x="1577">t/h</tspan></text>
<text class="t" y="189.5"><tspan x="1542">Temperature</tspan><tspan x="1562">110.0</tspan><tspan x="1577">°C</tspan></text>
<text class="t" y="195"><tspan x="1542">Pressure</tspan><tspan x="1562">7.0</tspan><tspan x="1577">bar</tspan></text>
<text class="t" y="200.5"><tspan x="1542">Enthalpy</tspan><tspan x="1562">461.6</tspan><tspan x="1577">kJ/kg</tspan></text>
<rect class="bx" x="1641" y="177" width="6" height="23"/>
<rect x="1687" y="138" width="48" height="28" fill="#757575" stroke="#151515" stroke-width="1.25"/><text class="tt" x="1711" y="143" style="fill:#eee">Air</text>
<text class="tw" y="150"><tspan x="1689">Flow</tspan><tspan x="1712">96.5</tspan><tspan x="1727">t/h</tspan></text>
<text class="tw" y="156"><tspan x="1689">Temperature</tspan><tspan x="1712">30.0</tspan><tspan x="1727">°C</tspan></text>
<text class="tw" y="162"><tspan x="1689">Air humidity</tspan><tspan x="1712">60.0</tspan><tspan x="1727">%</tspan></text>
<rect class="bx" x="1687" y="170" width="48" height="27"/><text class="tt" x="1711" y="175">Vapor</text>
<text class="t" y="181.5"><tspan x="1689">Flow</tspan><tspan x="1712">12.82</tspan><tspan x="1727">t/h</tspan></text>
<text class="t" y="187.5"><tspan x="1689">Temperature</tspan><tspan x="1712">133.8</tspan><tspan x="1727">°C</tspan></text>
<text class="t" y="193.5"><tspan x="1689">Pressure</tspan><tspan x="1712">3.0</tspan><tspan x="1727">bar</tspan></text>
<rect x="1687" y="199" width="48" height="25" fill="#5e9a36" stroke="#151515" stroke-width="1.25"/><text class="tt" x="1711" y="204">Bagasse</text>
<text class="t" y="210.5"><tspan x="1689">Flow</tspan><tspan x="1712">20.4</tspan><tspan x="1727">t/h</tspan></text>
<text class="t" y="216"><tspan x="1689">Moisture</tspan><tspan x="1712">50.0</tspan><tspan x="1727">%</tspan></text>
<text class="t" y="221.5"><tspan x="1689">LHV</tspan><tspan x="1712">7600</tspan><tspan x="1727">kJ</tspan></text>
<path class="bl" d="M1735,153 L1742,153 L1746,157 H1747"/><path class="k" d="M1735,184 H1747 M1735,211 H1747"/>
<rect class="bx" x="1747" y="143" width="48" height="79"/>
<text class="tt" x="1771" y="228">Boiler 1</text>
<text class="te" x="1772" y="233">Boiler Efficiency</text><text class="tm" x="1775" y="233">0.92</text>
<text class="te" x="1772" y="238">Excess Air</text><text class="tm" x="1775" y="238">40.0 %</text>
<text class="te" x="1772" y="243">Power</text><text class="tm" x="1775" y="243">81.12 MW</text>
<text class="te" x="1772" y="248">Operating Hours</text><text class="tm" x="1775" y="248">8000 h</text>
<path class="k" d="M1795,148 H1800 V141 H1805 M1800,148 V166 H1805"/><path class="r" d="M1795,192 H1805 M1795,211 H1805"/>
<rect class="bx" x="1805" y="132" width="48" height="20"/><text class="tt" x="1829" y="137">Gas</text>
<text class="t" y="143"><tspan x="1807">Flow</tspan><tspan x="1830">98.8</tspan><tspan x="1845">t/h</tspan></text>
<text class="t" y="149"><tspan x="1807">Temperature</tspan><tspan x="1830">170.0</tspan><tspan x="1845">°C</tspan></text>
<rect class="bx" x="1805" y="154" width="48" height="29"/><text class="tt" x="1829" y="159">Vapor</text>
<text class="t" y="165"><tspan x="1807">Flow</tspan><tspan x="1830">72.8</tspan><tspan x="1845">t/h</tspan></text>
<text class="t" y="170.5"><tspan x="1807">Temperature</tspan><tspan x="1830">400.0</tspan><tspan x="1845">°C</tspan></text>
<text class="t" y="176"><tspan x="1807">Pressure</tspan><tspan x="1830">42.0</tspan><tspan x="1845">bar</tspan></text>
<text class="t" y="181.5"><tspan x="1807">Enthalpy</tspan><tspan x="1830">3213</tspan><tspan x="1845">kJ/kg</tspan></text>
<rect class="bx" x="1805" y="184" width="48" height="16"/><text class="tt" x="1829" y="189">Ash</text>
<text class="t" y="196"><tspan x="1807">Flow</tspan><tspan x="1830">40.0</tspan><tspan x="1845">kg/h</tspan></text>
<rect class="bx" x="1805" y="202" width="48" height="18"/><text class="tt" x="1829" y="207">Condensate</text>
<text class="t" y="212"><tspan x="1807">Flow</tspan><tspan x="1830">1.47</tspan><tspan x="1845">t/h</tspan></text>
<text class="t" y="217.5"><tspan x="1807">Temperature</tspan><tspan x="1830">253.4</tspan><tspan x="1845">°C</tspan></text>
<path class="r" d="M1853,168 H1859 V183 H1875 M1888,184 H1899 M1912,184 H1928 M1976,184 H1997 M2004,177 H2048 M2012,190 V243 M2012,252 V257 M2015,263 V278 M2015,287 V300"/>
<text class="nr" x="1857" y="181">7</text>
<rect class="bx" x="1875" y="178" width="13" height="12"/><text x="1881.5" y="186.5" font-size="5" font-weight="bold" text-anchor="middle" fill="#222">ΔP</text>
<text class="tm" x="1875" y="195">0.0</text>
<rect class="bx" x="1899" y="178" width="13" height="12"/><text x="1905.5" y="186.5" font-size="5" font-weight="bold" text-anchor="middle" fill="#222">ΔH</text>
<text class="tm" x="1898" y="195">0.00 kJ/kg</text>
<rect class="bx" x="1928" y="170" width="48" height="28"/><text class="tt" x="1952" y="175">Vapor</text>
<text class="t" y="181"><tspan x="1930">Flow</tspan><tspan x="1953">72.8</tspan><tspan x="1968">t/h</tspan></text>
<text class="t" y="186.5"><tspan x="1930">Temperature</tspan><tspan x="1953">400.0</tspan><tspan x="1968">°C</tspan></text>
<text class="t" y="192"><tspan x="1930">Pressure</tspan><tspan x="1953">42.0</tspan><tspan x="1968">bar</tspan></text>
<rect class="bx" x="1997" y="172" width="7" height="23"/>
<path class="k" d="M2007,242 H2018 M2007,252 H2018 M2009,242 V252 M2016,242 V252"/>
<rect class="bx" x="2001" y="257" width="24" height="6"/>
<path class="k" d="M2010,278 H2021 M2010,287 H2021 M2012,278 V287 M2019,278 V287"/>
<path class="r" d="M1564,300 V272 H1573 M1624,273 H1816"/>
<rect class="bx" x="1573" y="260" width="51" height="23"/><text class="tt" x="1598" y="265">Steam</text>
<text class="t" y="271"><tspan x="1575">Flow</tspan><tspan x="1598">96.8</tspan><tspan x="1615">kg/h</tspan></text>
<text class="t" y="276.5"><tspan x="1575">Temperature</tspan><tspan x="1598">133.8</tspan><tspan x="1615">°C</tspan></text>
<text class="t" y="282"><tspan x="1575">Pressure</tspan><tspan x="1598">3.0</tspan><tspan x="1615">bar</tspan></text>
<rect class="bx" x="1816" y="265" width="5" height="28"/>
<polygon class="tr" points="1707,278 1698,286.5 1707,295"/><rect class="bx" x="1707" y="281" width="48" height="12"/><text class="t" x="1730" y="286">SPC 2</text><text class="t" x="1730" y="291">Steam</text>
<rect class="bx" x="1759" y="277" width="50" height="16"/><text class="tt" x="1784" y="282">Steam</text><text class="t" y="288"><tspan x="1761">Flow</tspan><tspan x="1784">1.25</tspan></text>
<rect class="bx" x="1828" y="285" width="49" height="10"/><text class="tt" x="1852" y="290">Water</text>
<rect class="bx" x="1901" y="287" width="37" height="8"/>
<rect class="bx" x="1953" y="280" width="48" height="14"/><text class="tt" x="1977" y="285">Water</text><text class="t" y="291"><tspan x="1955">Flow</tspan><tspan x="1977">0.45</tspan></text>
<rect class="bx" x="1955" y="296" width="49" height="10"/>
<rect class="bx" x="2026" y="303" width="30" height="25"/><text class="t" x="2028" y="310">Flow</text><text class="t" x="2028" y="316">Temperature</text><text class="t" x="2028" y="322">Pressure</text>
<path class="r" d="M2020,300 V317 H2026"/>
<path class="g" d="M1948,353 H1965 M2011,354 H2048 M1959,361 V383"/>
<rect class="bx" x="1965" y="346" width="46" height="15"/><text class="tt" x="1988" y="351">Water</text><text class="t" y="358"><tspan x="1967">Flow</tspan><tspan x="1988">2.31</tspan><tspan x="2003">t/h</tspan></text>
<rect class="bx" x="1950" y="383" width="34" height="14"/><text class="tt" x="1967" y="388">Water</text><text class="t" y="394"><tspan x="1952">Flow</tspan><tspan x="1970">20.0</tspan></text>
<path class="r" d="M1948,436 H2048"/>
<rect class="bx" x="1944" y="432" width="6" height="18"/>

<!-- ============ SHEET D (front, water preparation) ============ -->
<polygon points="1206,300 1941,291 1945,600 1210,600" fill="#fff" filter="url(#sh)"/>
<g transform="translate(1225,317) scale(0.48)">
<rect width="100" height="62" fill="#17766a"/>
<ellipse cx="28" cy="46" rx="24" ry="11" transform="rotate(-38 28 46)" fill="#e9b41a"/>
<path d="M20,5 C46,6 50,34 30,52" fill="none" stroke="#fff" stroke-width="8"/>
<path d="M93,9 C72,1 56,16 70,28 C86,38 88,56 60,57" fill="none" stroke="#fff" stroke-width="9"/>
<text class="ds" x="50" y="80" text-anchor="middle">De Smet</text>
<text class="ds2" x="50" y="88" text-anchor="middle">Engineers &amp; Contractors</text>
</g>
<text class="tb3"><tspan x="1283" y="322">Project</tspan><tspan x="1283" y="327.6">Description</tspan><tspan x="1283" y="333.2">Revision</tspan><tspan x="1283" y="338.8">Date</tspan><tspan x="1283" y="344.4">Made by</tspan><tspan x="1283" y="350">Check by</tspan><tspan x="1283" y="355.6">Project Manager</tspan><tspan x="1283" y="361.2">Sheet Title</tspan><tspan x="1283" y="366.8">Sheet</tspan></text>
<text class="tb3"><tspan x="1318" y="322">DURRAH - Saudi Arabia</tspan><tspan x="1318" y="327.6">2500 T/day white sugar refinery</tspan><tspan x="1318" y="333.2">01</tspan><tspan x="1318" y="338.8">25/04/2014</tspan><tspan x="1318" y="344.4">SSC</tspan><tspan x="1318" y="350">VCO</tspan><tspan x="1318" y="355.6">PAO</tspan><tspan x="1318" y="361.2">Water Preparation</tspan><tspan x="1318" y="366.8">8 / 8</tspan></text>
<rect class="bx" x="1225" y="395" width="43" height="10"/><polygon class="tr" points="1268,393 1277,400 1268,407"/><text class="t" x="1227" y="399">SPC 2111</text><text class="t" x="1227" y="403.5">Water</text>
<rect class="bx" x="1225" y="408" width="43" height="10"/><polygon class="tr" points="1268,406 1277,413 1268,420"/><text class="t" x="1227" y="412">SPC 2011</text><text class="t" x="1227" y="416.5">Water</text>
<rect class="bx" x="1225" y="421" width="43" height="10"/><polygon class="tr" points="1268,419 1277,426 1268,433"/><text class="t" x="1227" y="425">SPC 2012</text><text class="t" x="1227" y="429.5">Water</text>
<rect class="bx" x="1225" y="435" width="43" height="10"/><polygon class="tr" points="1268,433 1277,440 1268,447"/><text class="t" x="1227" y="439">SPC 2013</text><text class="t" x="1227" y="443.5">Water</text>
<rect class="bx" x="1225" y="448" width="43" height="10"/><polygon class="tr" points="1268,446 1277,453 1268,460"/><text class="t" x="1227" y="452">SPC 2014</text><text class="t" x="1227" y="456.5">Water</text>
<rect class="bx" x="1225" y="462" width="43" height="10"/><polygon class="tr" points="1268,460 1277,467 1268,474"/><text class="t" x="1227" y="466">SPC 2015</text><text class="t" x="1227" y="470.5">Water</text>
<rect class="bx" x="1225" y="475" width="43" height="10"/><polygon class="tr" points="1268,473 1277,480 1268,487"/><text class="t" x="1227" y="479">SPC 2016</text><text class="t" x="1227" y="483.5">Water</text>
<rect class="bx" x="1225" y="488" width="43" height="10"/><polygon class="tr" points="1268,486 1277,493 1268,500"/><text class="t" x="1227" y="492">SPC 2017</text><text class="t" x="1227" y="496.5">Water</text>
<path class="r" d="M1277,400 H1290 M1277,413 H1290 M1277,426 H1290 M1277,440 H1290 M1277,453 H1290 M1277,467 H1290 M1277,480 H1290 M1277,493 H1290 M1294,446 H1310"/>
<rect class="bx" x="1290" y="393" width="4" height="106"/>
<path d="M1310,452 L1330,441 L1350,446 L1350,455 L1332,462 L1310,458 Z" fill="#f0f0f0" stroke="#999" stroke-width="0.8"/>
<text class="tm" x="1318" y="466">Lamella 1</text>
<rect class="bx" x="1342" y="418" width="40" height="14"/><text class="tt" x="1362" y="423">Steam</text><text class="t" y="429.5"><tspan x="1344">Flow</tspan><tspan x="1360">47.11</tspan><tspan x="1374">kg/h</tspan></text>
<rect class="bx" x="1384" y="418" width="36" height="14"/><text class="tt" x="1402" y="423">Air</text><text class="t" y="429.5"><tspan x="1386">Flow</tspan><tspan x="1400">46.06</tspan><tspan x="1414">%</tspan></text>
<path class="r" d="M1362,432 V445"/>
<path class="bl" d="M1352,450 H1403 V432 M1310,458 V482 H1312"/>
<rect x="1312" y="465" width="48" height="34" fill="#6f6f6f" stroke="#151515" stroke-width="1.25"/><text class="tt" x="1336" y="470" style="fill:#eee">A</text>
<text class="tw" y="477"><tspan x="1314">Flow</tspan><tspan x="1334">26.09</tspan><tspan x="1352">t/h</tspan></text>
<text class="tw" y="483"><tspan x="1314">Temperature</tspan><tspan x="1334">20.00</tspan><tspan x="1352">°C</tspan></text>
<text class="tw" y="489"><tspan x="1314">Pressure</tspan><tspan x="1334">1.00</tspan><tspan x="1352">bar</tspan></text>
<text class="tw" y="495"><tspan x="1314">Conductivity</tspan><tspan x="1334">55.00</tspan><tspan x="1352">µS</tspan></text>
<path class="g" d="M1357,457 H1368 V487 H1373 M1418,486 H1437 M1458,473 H1492 M1537,475 H1552 M1573,460 H1583 M1630,458 H1692 M1637,413 H1648 M1637,428 H1648 M1673,413 H1692 M1673,428 H1692"/>
<rect class="bx" x="1373" y="477" width="45" height="18"/><text class="tt" x="1395" y="482">Water</text>
<text class="t" y="487.5"><tspan x="1375">Flow</tspan><tspan x="1395">13.16</tspan><tspan x="1410">t/h</tspan></text>
<text class="t" y="492.5"><tspan x="1375">Temperature</tspan><tspan x="1395">20.00</tspan><tspan x="1410">°C</tspan></text>
<path class="r" d="M1427,472 V420 H1467 M1427,472 H1437 M1458,483 H1480 V527 H1492 M1537,527 H1680 V470 H1692 M1543,438 V465 H1552 M1573,477 H1583 M1610,477 H1613 M1637,444 H1648 M1673,443 H1692"/>
<polygon class="tr" points="1475,413 1466,420 1475,427"/><rect class="bx" x="1475" y="415" width="43" height="10"/><text class="t" x="1477" y="419">Low Pres. Lamella Tank</text><text class="t" x="1500" y="423.5">SPC 17</text>
<rect class="bx" x="1437" y="465" width="21" height="27"/><path class="kt" d="M1440,468 H1455 V489 H1440 Z M1440,468 L1455,489 M1455,468 L1440,489"/>
<text class="te" x="1446" y="498">Heater :</text><text class="tm" x="1449" y="498">HX-W1</text>
<text class="te" x="1446" y="503">Power</text><text class="tm" x="1449" y="503">326.51 kW</text>
<text class="te" x="1446" y="508">LMTD</text><text class="tm" x="1449" y="508">12.2 °C</text>
<text class="te" x="1446" y="513">Surface</text><text class="tm" x="1449" y="513">18.09 m²</text>
<text class="te" x="1446" y="518">Efficiency Coeff.</text><text class="tm" x="1449" y="518">1614 W/m²°C</text>
<rect class="bx" x="1492" y="463" width="45" height="17"/><text class="tt" x="1514" y="468">Water</text>
<text class="t" y="473.5"><tspan x="1494">Flow</tspan><tspan x="1514">13.16</tspan><tspan x="1529">t/h</tspan></text>
<text class="t" y="478"><tspan x="1494">Temperature</tspan><tspan x="1514">52.00</tspan><tspan x="1529">°C</tspan></text>
<rect class="bx" x="1488" y="433" width="45" height="10"/><polygon class="tr" points="1533,431 1542,438 1533,445"/><text class="t" x="1490" y="437">SPC 18</text><text class="t" x="1490" y="441.5">Vapor Evap.</text>
<rect class="bx" x="1492" y="519" width="45" height="18"/><text class="tt" x="1514" y="524">Water</text>
<text class="t" y="529.5"><tspan x="1494">Flow</tspan><tspan x="1514">3.50</tspan><tspan x="1529">t/h</tspan></text>
<text class="t" y="534.5"><tspan x="1494">Temperature</tspan><tspan x="1514">85.00</tspan><tspan x="1529">°C</tspan></text>
<rect class="bx" x="1552" y="457" width="21" height="26"/><path class="kt" d="M1555,460 H1570 V480 H1555 Z M1555,460 L1570,480 M1570,460 L1555,480"/>
<text class="te" x="1561" y="489">Heater :</text><text class="tm" x="1564" y="489">HX-W2</text>
<text class="te" x="1561" y="494">Power</text><text class="tm" x="1564" y="494">245.0 kW</text>
<text class="te" x="1561" y="499">LMTD</text><text class="tm" x="1564" y="499">10.1 °C</text>
<text class="te" x="1561" y="504">Surface</text><text class="tm" x="1564" y="504">15.2 m²</text>
<text class="te" x="1561" y="509">Efficiency Coeff.</text><text class="tm" x="1564" y="509">1602 W/m²°C</text>
<rect class="bx" x="1583" y="450" width="47" height="17"/><text class="tt" x="1606" y="455">Water</text>
<text class="t" y="460.5"><tspan x="1585">Flow</tspan><tspan x="1606">13.16</tspan><tspan x="1622">t/h</tspan></text>
<text class="t" y="465"><tspan x="1585">Temperature</tspan><tspan x="1606">80.00</tspan><tspan x="1622">°C</tspan></text>
<rect class="bx" x="1583" y="472" width="27" height="9"/><text class="tt" x="1596" y="476">Condensate</text><text class="t" x="1585" y="480">Flow 0.41 t/h</text>
<rect class="bx" x="1613" y="471" width="50" height="11"/><polygon class="tr" points="1663,469 1671,476.5 1663,484"/><text class="t" x="1615" y="475.5">SPC 103</text><text class="t" x="1615" y="480.5">Condensate</text>
<rect class="bx" x="1585" y="408" width="45" height="10"/><polygon class="tr" points="1630,406 1638,413 1630,420"/><text class="t" x="1587" y="412">SPC 1</text><text class="t" x="1587" y="416.5">Sweet Water</text>
<rect class="bx" x="1585" y="423" width="45" height="10"/><polygon class="tr" points="1630,421 1638,428 1630,435"/><text class="t" x="1587" y="427">SPC 13</text><text class="t" x="1587" y="431.5">ITC Cond.</text>
<rect class="bx" x="1585" y="438" width="45" height="10"/><polygon class="tr" points="1630,436 1638,443 1630,450"/><text class="t" x="1587" y="442">SPC 14</text><text class="t" x="1587" y="446.5">Condensate</text>
<rect class="bx" x="1648" y="408" width="25" height="12"/><text class="tt" x="1660" y="412.5">Water</text><text class="t" x="1650" y="418">Flow 3.35</text>
<rect class="bx" x="1648" y="423" width="25" height="10"/><text class="tt" x="1660" y="427">Water</text><text class="t" x="1650" y="431.5">Flow 2.01</text>
<rect class="bx" x="1648" y="437" width="25" height="11"/><text class="tt" x="1660" y="441.5">Condensate</text><text class="t" x="1650" y="446.5">Flow 1.48</text>
<rect class="bx" x="1692" y="405" width="5" height="75"/>
<path class="g" d="M1697,417 H1704 M1720,417 H1736 M1697,442 H1704 M1720,442 H1738 M1697,475 H1715 M1758,478 H1776 M1786,458 V449 H1794 M1815,439 V431 H1821 M1827,386 H1839 M1863,386 H1877 M1827,406 H1839 M1863,406 H1877 M1827,426 H1839 M1863,426 H1877"/>
<rect class="bx" x="1704" y="412" width="16" height="10"/><text class="t" x="1705" y="416.5">Water</text>
<rect class="bx" x="1736" y="413" width="50" height="9"/><polygon class="tr" points="1786,411 1794,417.5 1786,424"/><text class="t" x="1738" y="417">SPC 4</text><text class="t" x="1738" y="421">Water Main</text>
<rect class="bx" x="1704" y="437" width="16" height="10"/><text class="t" x="1705" y="441.5">Water</text>
<rect class="bx" x="1738" y="437" width="50" height="10"/><polygon class="tr" points="1788,435 1796,442 1788,449"/><text class="t" x="1740" y="441">SPC 5</text><text class="t" x="1740" y="445.5">Water Cond. Tank</text>
<rect class="bx" x="1707" y="454" width="48" height="9"/><polygon class="tr" points="1755,452 1763,458.5 1755,465"/><text class="t" x="1709" y="458">SPC 18</text><text class="t" x="1709" y="462">Vapor Evap.</text>
<path class="r" d="M1763,459 H1770 V463 H1776 M1796,478 H1808 M1832,478 H1839"/>
<rect class="bx" x="1715" y="470" width="43" height="17"/><text class="tt" x="1736" y="475">Water</text>
<text class="t" y="480.5"><tspan x="1717">Flow</tspan><tspan x="1737">10.11</tspan><tspan x="1751">t/h</tspan></text>
<text class="t" y="485"><tspan x="1717">Temperature</tspan><tspan x="1737">80.00</tspan><tspan x="1751">°C</tspan></text>
<rect class="bx" x="1776" y="458" width="20" height="24"/><path class="kt" d="M1779,461 H1793 V479 H1779 Z M1779,461 L1793,479 M1793,461 L1779,479"/>
<text class="te" x="1785" y="489">Heater :</text><text class="tm" x="1788" y="489">HX-W3</text>
<text class="te" x="1785" y="494">Power</text><text class="tm" x="1788" y="494">198.0 kW</text>
<text class="te" x="1785" y="499">LMTD</text><text class="tm" x="1788" y="499">9.3 °C</text>
<text class="te" x="1785" y="504">Surface</text><text class="tm" x="1788" y="504">13.1 m²</text>
<text class="te" x="1785" y="509">Efficiency Coeff.</text><text class="tm" x="1788" y="509">1598 W/m²°C</text>
<rect class="bx" x="1794" y="439" width="43" height="17"/><text class="tt" x="1815" y="444">Water</text>
<text class="t" y="449.5"><tspan x="1796">Flow</tspan><tspan x="1815">10.11</tspan><tspan x="1829">t/h</tspan></text>
<text class="t" y="454"><tspan x="1796">Temperature</tspan><tspan x="1815">95.00</tspan><tspan x="1829">°C</tspan></text>
<rect class="bx" x="1808" y="473" width="24" height="10"/><text class="tt" x="1820" y="477">Condensate</text><text class="t" x="1810" y="481.5">Flow 0.31</text>
<rect class="bx" x="1839" y="472" width="54" height="10"/><polygon class="tr" points="1893,470 1901,477 1893,484"/><text class="t" x="1841" y="476">SPC 103</text><text class="t" x="1841" y="480.5">Condensate</text>
<rect class="bx" x="1821" y="376" width="6" height="61"/>
<rect class="bx" x="1839" y="380" width="24" height="12"/><text class="tt" x="1851" y="384.5">Water</text><text class="t" x="1841" y="390">Flow 3.11</text>
<rect class="bx" x="1839" y="400" width="24" height="12"/><text class="tt" x="1851" y="404.5">Water</text><text class="t" x="1841" y="410">Flow 4.00</text>
<rect class="bx" x="1839" y="420" width="24" height="12"/><text class="tt" x="1851" y="424.5">Water</text><text class="t" x="1841" y="430">Flow 3.00</text>
<rect class="bx" x="1877" y="380" width="46" height="11"/><polygon class="tr" points="1923,378 1931,385.5 1923,393"/><text class="t" x="1879" y="384.5">SPC 6</text><text class="t" x="1879" y="389">Water to Melt Sugar</text>
<rect class="bx" x="1877" y="400" width="46" height="10"/><polygon class="tr" points="1923,398 1931,405 1923,412"/><text class="t" x="1879" y="404">SPC 8</text><text class="t" x="1879" y="408.5">Water to Mix 80</text>
<rect class="bx" x="1877" y="420" width="46" height="10"/><polygon class="tr" points="1923,418 1931,425 1923,432"/><text class="t" x="1879" y="424">SPC 9</text><text class="t" x="1879" y="428.5">Water to Mix Breaker</text>
<rect class="bx" x="1372" y="597" width="34" height="2"/>
<path class="k" d="M1429,593 V599 M1427,593 H1431"/>
</svg>
</div>
</body></html>
